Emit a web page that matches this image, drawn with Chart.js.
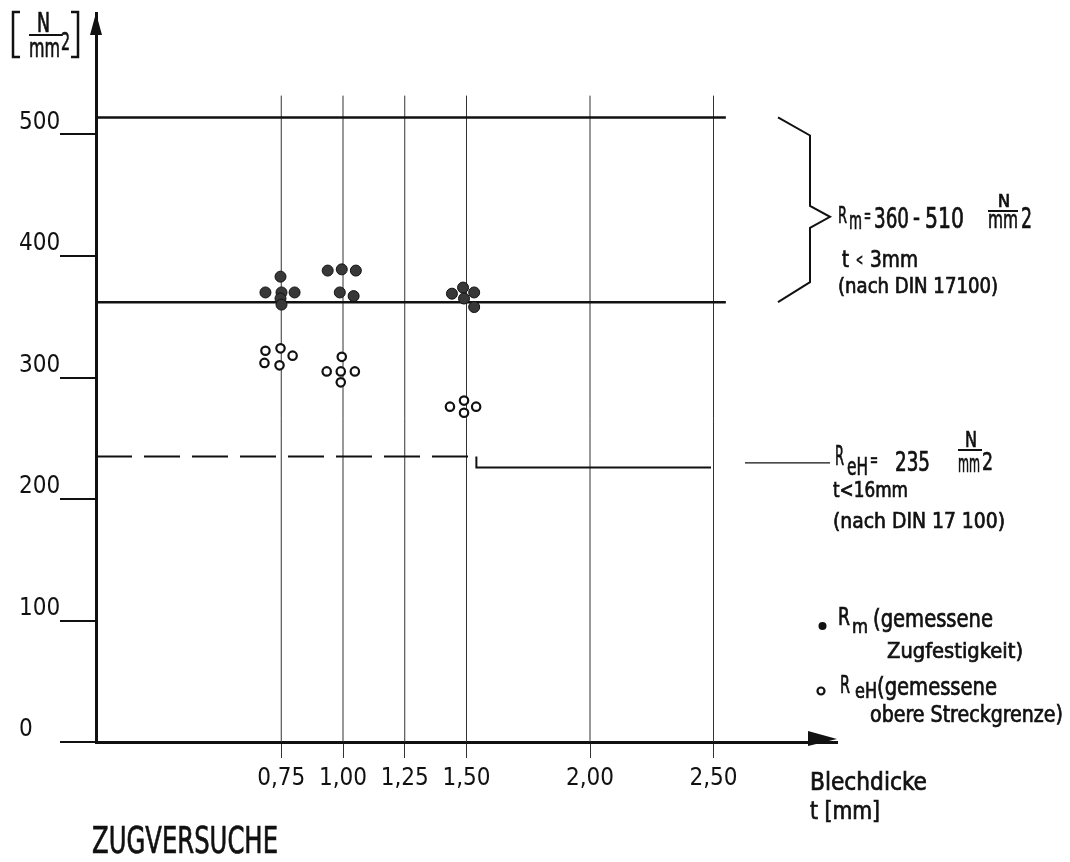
<!DOCTYPE html>
<html>
<head>
<meta charset="utf-8">
<title>Zugversuche</title>
<script src="https://cdn.jsdelivr.net/npm/chart.js@4/dist/chart.umd.min.js"></script>
<style>
  html, body { margin: 0; padding: 0; background: #fff; }
  #wrap { width: 1070px; height: 862px; }
</style>
</head>
<body>
<div id="wrap"><canvas id="chart" width="1070" height="862"></canvas></div>
<script>
// x axis: sheet thickness t [mm]
var xTicks = [0.75, 1.00, 1.25, 1.50, 2.00, 2.50];
var xTickLabels = ['0,75', '1,00', '1,25', '1,50', '2,00', '2,50'];
var yTicks = [0, 100, 200, 300, 400, 500];

// measured tensile strength Rm (filled dots)
var rmT      = [0.747, 0.686, 0.751, 0.804, 0.747, 0.751, 0.938, 0.995, 1.052, 0.987, 1.043, 1.486, 1.441, 1.531, 1.490, 1.531];
var rmValues = [383, 370, 370, 370, 365, 360, 388, 389, 388, 370, 367, 374, 369, 370, 365, 358];

// measured upper yield point ReH (open dots)
var rehT      = [0.686, 0.747, 0.796, 0.682, 0.743, 0.995, 0.934, 0.991, 1.048, 0.991, 1.490, 1.433, 1.539, 1.490];
var rehValues = [322, 324, 318, 312, 310, 317, 305, 305, 305, 296, 281, 276, 276, 271];

// DIN 17100 limits as drawn
var rmLower = 362;
var rmUpper = 514;
var rmLineEnd = 2.55;
var rehLimit = 235;
var rehLimitThick = 226;
var rehStepAt = 1.54;
var rehLineEnd = 2.49;
var gridTop = 532;

var FONT = "'DejaVu Sans Condensed', 'DejaVu Sans', sans-serif";
var INK = '#111';

function pts(xs, ys) {
    return xs.map(function (x, i) { return { x: x, y: ys[i] }; });
}

var gridData = [];
xTicks.forEach(function (t) {
    gridData.push({ x: t, y: 0 }, { x: t, y: gridTop }, { x: t, y: null });
});

// text squeezed horizontally into [x0, x1], like the stencil lettering
function box(ctx, s, x0, x1, base, size) {
    ctx.save();
    ctx.font = size + 'px ' + FONT;
    ctx.textBaseline = 'alphabetic';
    ctx.textAlign = 'left';
    var w = ctx.measureText(s).width;
    ctx.translate(x0, base);
    ctx.scale((x1 - x0) / w, 1);
    ctx.lineWidth = 0.7;
    ctx.fillText(s, 0, 0);
    ctx.strokeText(s, 0, 0);
    ctx.restore();
}

var decorations = {
    id: 'decorations',
    afterDraw: function (chart) {
        var ctx = chart.ctx;
        var xs = chart.scales.x, ys = chart.scales.y;
        var left = xs.left, bottom = ys.bottom, top = ys.top, right = xs.right;
        ctx.save();
        ctx.fillStyle = INK;
        ctx.strokeStyle = INK;

        // axis arrows
        ctx.beginPath();
        ctx.moveTo(left, top);
        ctx.lineTo(left - 6, top + 22);
        ctx.lineTo(left + 6, top + 22);
        ctx.closePath();
        ctx.fill();
        ctx.beginPath();
        ctx.moveTo(right, bottom - 3);
        ctx.lineTo(right - 29, bottom - 11);
        ctx.lineTo(right - 29, bottom + 4);
        ctx.closePath();
        ctx.fill();

        // unit [N/mm2]
        ctx.lineWidth = 2.5;
        ctx.beginPath();
        ctx.moveTo(20, 12); ctx.lineTo(13, 12); ctx.lineTo(13, 57); ctx.lineTo(20, 57);
        ctx.moveTo(71, 12); ctx.lineTo(78, 12); ctx.lineTo(78, 57); ctx.lineTo(71, 57);
        ctx.stroke();
        box(ctx, 'N', 37, 50, 32, 26);
        ctx.lineWidth = 2;
        ctx.beginPath(); ctx.moveTo(29, 35); ctx.lineTo(62, 35); ctx.stroke();
        box(ctx, 'mm', 29, 60, 57, 27);
        box(ctx, '2', 61, 70, 50, 25);

        // brace for Rm range
        var bTop = ys.getPixelForValue(rmUpper);
        var bBot = ys.getPixelForValue(rmLower);
        var bMid = (bTop + bBot) / 2 + 7;
        ctx.lineWidth = 2;
        ctx.beginPath();
        ctx.moveTo(778, bTop);
        ctx.lineTo(810, bTop + 18);
        ctx.lineTo(810, bMid - 11);
        ctx.lineTo(830, bMid);
        ctx.lineTo(810, bMid + 11);
        ctx.lineTo(810, bBot - 20);
        ctx.lineTo(778, bBot);
        ctx.stroke();

        // Rm = 360 - 510 N/mm2
        box(ctx, 'R', 838, 847, 223, 23);
        box(ctx, 'm', 849, 862, 229, 24);
        box(ctx, '=', 864, 871, 223, 22);
        box(ctx, '360', 874, 909, 228, 29);
        box(ctx, '-', 913, 920, 226, 26);
        box(ctx, '510', 925, 964, 228, 29);
        box(ctx, 'N', 998, 1010, 207, 17);
        ctx.lineWidth = 2;
        ctx.beginPath(); ctx.moveTo(988, 211); ctx.lineTo(1018, 211); ctx.stroke();
        box(ctx, 'mm', 988, 1018, 228, 24);
        box(ctx, '2', 1021, 1032, 228, 29);
        box(ctx, 't', 842, 849, 267, 23);
        box(ctx, '<', 856, 863, 265, 16);
        box(ctx, '3mm', 870, 918, 267, 23);
        box(ctx, '(nach DIN 17100)', 838, 998, 293, 22);

        // ReH = 235 N/mm2
        var ly = ys.getPixelForValue((rehLimit + rehLimitThick) / 2) + 1;
        ctx.lineWidth = 1.2;
        ctx.beginPath(); ctx.moveTo(745, ly); ctx.lineTo(830, ly); ctx.stroke();
        box(ctx, 'R', 835, 844, 465, 26);
        box(ctx, 'eH', 847, 868, 475, 25);
        box(ctx, '=', 870, 878, 466, 20);
        box(ctx, '235', 895, 930, 471, 26);
        box(ctx, 'N', 965, 977, 447, 22);
        ctx.lineWidth = 2;
        ctx.beginPath(); ctx.moveTo(958, 450); ctx.lineTo(982, 450); ctx.stroke();
        box(ctx, 'mm', 958, 980, 472, 24);
        box(ctx, '2', 982, 993, 470, 24);
        box(ctx, 't<16mm', 833, 908, 497, 22);
        box(ctx, '(nach DIN 17 100)', 833, 1005, 528, 22);

        // key
        ctx.beginPath(); ctx.arc(822.5, 626, 4, 0, Math.PI * 2); ctx.fill();
        box(ctx, 'R', 838, 850, 625, 25);
        box(ctx, 'm', 852, 868, 633, 20);
        box(ctx, '(gemessene', 873, 993, 627, 25);
        box(ctx, 'Zugfestigkeit)', 887, 1023, 658, 22);
        ctx.lineWidth = 2.2;
        ctx.beginPath(); ctx.arc(821, 691, 3.5, 0, Math.PI * 2); ctx.stroke();
        box(ctx, 'R', 840, 850, 693, 25);
        box(ctx, 'eH', 855, 877, 698, 22);
        box(ctx, '(gemessene', 877, 997, 695, 25);
        box(ctx, 'obere Streckgrenze)', 870, 1063, 722, 23);

        // axis title and caption
        box(ctx, 'Blechdicke', 810, 927, 790, 25);
        box(ctx, 't [mm]', 810, 880, 819, 24);
        box(ctx, 'ZUGVERSUCHE', 92, 278, 853, 38);
        ctx.restore();
    }
};

var config = {
    type: 'line',
    data: {
        datasets: [{
            label: 'Rm (gemessene Zugfestigkeit)',
            data: pts(rmT, rmValues),
            showLine: false,
            pointRadius: 5.5,
            pointBackgroundColor: '#383838',
            pointBorderColor: INK,
            pointBorderWidth: 1
        }, {
            label: 'ReH (gemessene obere Streckgrenze)',
            data: pts(rehT, rehValues),
            showLine: false,
            pointRadius: 4.2,
            pointBackgroundColor: '#fff',
            pointBorderColor: INK,
            pointBorderWidth: 2.2
        }, {
            label: 'Rm 510',
            data: [{ x: 0, y: rmUpper }, { x: rmLineEnd, y: rmUpper }],
            borderColor: INK, borderWidth: 2.5, pointRadius: 0
        }, {
            label: 'Rm 360',
            data: [{ x: 0, y: rmLower }, { x: rmLineEnd, y: rmLower }],
            borderColor: INK, borderWidth: 2.5, pointRadius: 0
        }, {
            label: 'ReH 235',
            data: [{ x: 0, y: rehLimit }, { x: rehStepAt, y: rehLimit }],
            borderColor: INK, borderWidth: 2, pointRadius: 0,
            borderDash: [36, 12]
        }, {
            label: 'ReH step',
            data: [{ x: rehStepAt, y: rehLimit }, { x: rehStepAt, y: rehLimitThick }, { x: rehLineEnd, y: rehLimitThick }],
            borderColor: INK, borderWidth: 2, pointRadius: 0
        }, {
            label: 'grid',
            data: gridData,
            borderColor: '#333', borderWidth: 1, pointRadius: 0,
            spanGaps: false
        }]
    },
    options: {
        responsive: false,
        animation: false,
        clip: false,
        layout: { padding: { left: 19, top: 13, right: 233, bottom: 0 } },
        plugins: {
            legend: { display: false },
            tooltip: { enabled: false }
        },
        scales: {
            x: {
                type: 'linear',
                min: 0,
                max: 3.0,
                afterFit: function (scale) {
                    scale.height = 120;
                    scale.paddingLeft = 0;
                    scale.paddingRight = 0;
                },
                afterBuildTicks: function (scale) {
                    scale.ticks = xTicks.map(function (v) { return { value: v }; });
                },
                ticks: {
                    color: INK,
                    padding: 6,
                    maxRotation: 0,
                    font: { family: FONT, size: 24 },
                    callback: function (v) {
                        var i = xTicks.indexOf(v);
                        return i >= 0 ? xTickLabels[i] : '';
                    }
                },
                grid: { drawOnChartArea: false, drawTicks: true, tickLength: 16, color: '#333', lineWidth: 1 },
                border: { display: true, color: INK, width: 3 }
            },
            y: {
                type: 'linear',
                min: 0,
                max: 600,
                afterFit: function (scale) {
                    scale.width = 77;
                    scale.paddingTop = 0;
                    scale.paddingBottom = 0;
                },
                afterBuildTicks: function (scale) {
                    scale.ticks = yTicks.map(function (v) { return { value: v }; });
                },
                ticks: {
                    color: INK,
                    crossAlign: 'far',
                    labelOffset: -12,
                    font: { family: FONT, size: 24 }
                },
                grid: { drawOnChartArea: false, drawTicks: true, tickLength: 36, color: INK, lineWidth: 2 },
                border: { display: true, color: INK, width: 3 }
            }
        }
    },
    plugins: [decorations]
};

window.onload = function () {
    new Chart(document.getElementById('chart'), config);
};
</script>
</body>
</html>
